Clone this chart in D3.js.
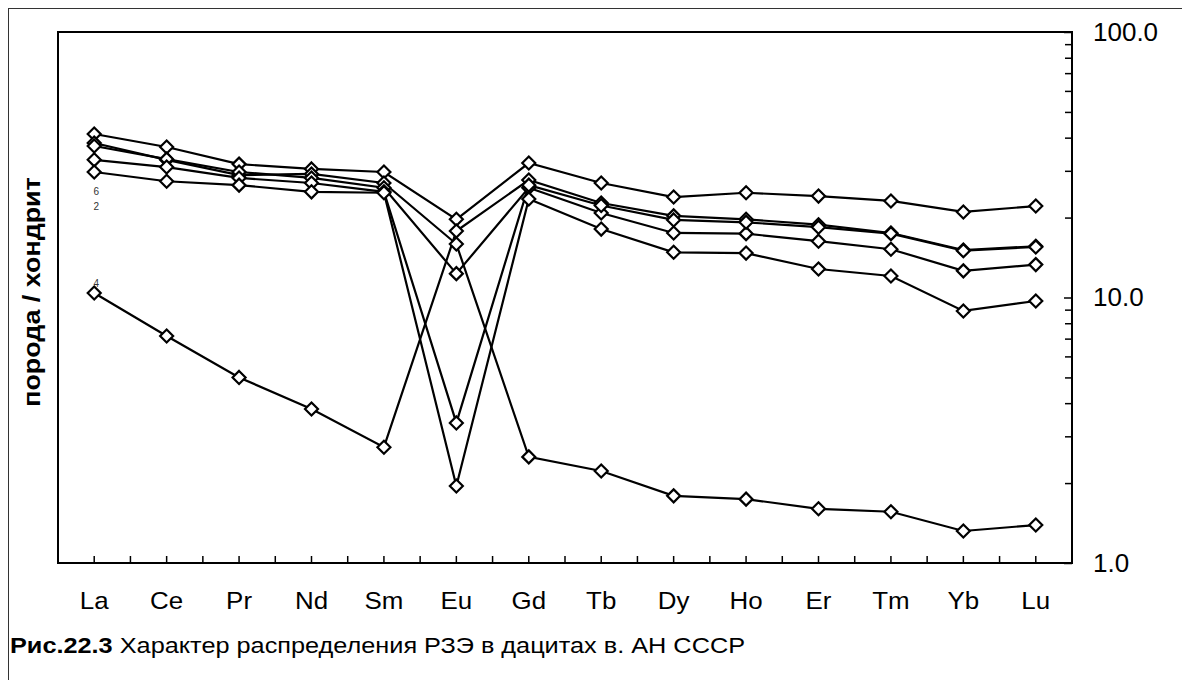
<!DOCTYPE html>
<html>
<head>
<meta charset="utf-8">
<script src="https://cdn.jsdelivr.net/npm/d3@7"></script>
<style>
  html, body { margin: 0; padding: 0; background: #fff; }
  svg { display: block; font-family: "Liberation Sans", Arial, sans-serif; }
</style>
</head>
<body>
<svg id="chart" width="1182" height="680"></svg>
<script>
// ---- data ----
const categories = ["La","Ce","Pr","Nd","Sm","Eu","Gd","Tb","Dy","Ho","Er","Tm","Yb","Lu"];
const series1 = [41.3, 36.9, 31.8, 30.5, 29.7, 19.7, 32.1, 27.0, 23.9, 24.8, 24.1, 23.1, 21.0, 22.1];
const series2 = [10.4, 7.16, 5.0, 3.8, 2.73, 17.8, 27.7, 22.7, 20.3, 19.7, 18.8, 17.5, 15.1, 15.6];
const series3 = [38.2, 33.0, 28.9, 29.2, 27.0, 15.9, 2.51, 2.22, 1.79, 1.74, 1.60, 1.56, 1.32, 1.39];
const series4 = [37.2, 33.2, 29.7, 28.2, 25.9, 12.3, 25.9, 20.8, 17.5, 17.4, 16.3, 15.2, 12.6, 13.3];
const series5 = [33.0, 31.0, 28.2, 27.0, 25.0, 3.37, 26.5, 22.2, 19.6, 19.2, 18.4, 17.4, 15.0, 15.5];
const series6 = [29.7, 27.4, 26.5, 25.0, 24.8, 1.95, 23.5, 18.1, 14.8, 14.7, 12.8, 12.05, 8.9, 9.7];
const allSeries = [series1, series2, series3, series4, series5, series6];
const yMajorTicks = [1, 10, 100];
const yMinorTicks = [2,3,4,5,6,7,8,9,20,30,40,50,60,70,80,90];
const stray = [{text: "6", cat: "La", value: 25.0}, {text: "2", cat: "La", value: 22.1}, {text: "4", cat: "La", value: 11.3}];
const yTitle = "порода / хондрит";
const captionBold = "Рис.22.3";
const captionText = " Характер распределения РЗЭ в дацитах в. АН СССР";

// ---- layout ----
const svg = d3.select("#chart");
const L = 58, R = 1072, T = 32, B = 563;

const x = d3.scaleBand().domain(categories).range([L, R]).padding(0);
const y = d3.scaleLog().domain([1, 100]).range([B, T]);
const cx = c => x(c) + x.bandwidth() / 2;

// outer frame
svg.append("rect").attr("x", 8.5).attr("y", 8.5).attr("width", 1300).attr("height", 800)
  .attr("fill", "none").attr("stroke", "#333").attr("stroke-width", 1);

// plot frame
svg.append("rect").attr("x", L).attr("y", T).attr("width", R - L).attr("height", B - T)
  .attr("fill", "#fff").attr("stroke", "#000").attr("stroke-width", 2);

// bottom ticks (category centres and boundaries)
const halfTicks = [];
categories.forEach((c, i) => { halfTicks.push(x(c) + x.bandwidth()/2); if (i > 0) halfTicks.push(x(c)); });
svg.append("g").selectAll("line").data(halfTicks).join("line")
  .attr("x1", d => d).attr("x2", d => d).attr("y1", B).attr("y2", B - 7)
  .attr("stroke", "#000").attr("stroke-width", 1.5);

// category labels
svg.append("g").selectAll("text").data(categories).join("text")
  .attr("transform", d => `translate(${cx(d)},609) scale(1.08,1)`)
  .attr("text-anchor", "middle").attr("font-size", 24).attr("fill", "#000")
  .text(d => d);

// right axis: minor ticks
const minorAxis = d3.axisRight(y).tickValues(yMinorTicks).tickSizeInner(-7).tickSizeOuter(0).tickFormat("");
svg.append("g").attr("transform", `translate(${R},0)`).call(minorAxis)
  .call(g => g.select(".domain").remove())
  .call(g => g.selectAll("line").attr("stroke", "#000").attr("stroke-width", 1.5));
// right axis: major ticks + labels
const majorAxis = d3.axisRight(y).tickValues(yMajorTicks).tickSizeInner(-8).tickSizeOuter(0)
  .tickPadding(21).tickFormat(d3.format(".1f"));
svg.append("g").attr("transform", `translate(${R},0)`).call(majorAxis)
  .call(g => g.select(".domain").remove())
  .call(g => g.selectAll("line").attr("stroke", "#000").attr("stroke-width", 1.5))
  .call(g => g.selectAll("text").attr("font-size", 26).attr("font-family", "Liberation Sans, Arial, sans-serif").attr("fill", "#000"));

// lines
const line = d3.line().x((d, i) => cx(categories[i])).y(d => y(d));
svg.append("g").selectAll("path").data(allSeries).join("path")
  .attr("d", line).attr("fill", "none").attr("stroke", "#000").attr("stroke-width", 2.2);

// markers (diamonds)
const dSize = 6.5;
const diamond = `M0,${-dSize}L${dSize},0L0,${dSize}L${-dSize},0Z`;
allSeries.forEach(s => {
  svg.append("g").selectAll("path").data(s).join("path")
    .attr("d", diamond)
    .attr("transform", (d, i) => `translate(${cx(categories[i])},${y(d)})`)
    .attr("fill", "#fff").attr("stroke", "#000").attr("stroke-width", 2.2);
});

// stray small labels
svg.append("g").selectAll("text").data(stray).join("text")
  .attr("x", d => cx(d.cat) + 2).attr("y", d => y(d.value) + 3.5)
  .attr("text-anchor", "middle").attr("font-size", 10).attr("fill", "#333")
  .text(d => d.text);

// y title
svg.append("text")
  .attr("transform", `translate(40,292) rotate(-90) scale(1.12,1)`)
  .attr("text-anchor", "middle").attr("font-size", 24).attr("font-weight", "bold").attr("fill", "#000")
  .text(yTitle);

// caption
const cap = svg.append("text").attr("transform", "translate(10,653) scale(1.15,1)")
  .attr("font-size", 22).attr("fill", "#000");
cap.append("tspan").attr("font-weight", "bold").text(captionBold);
cap.append("tspan").text(captionText);
</script>
</body>
</html>
